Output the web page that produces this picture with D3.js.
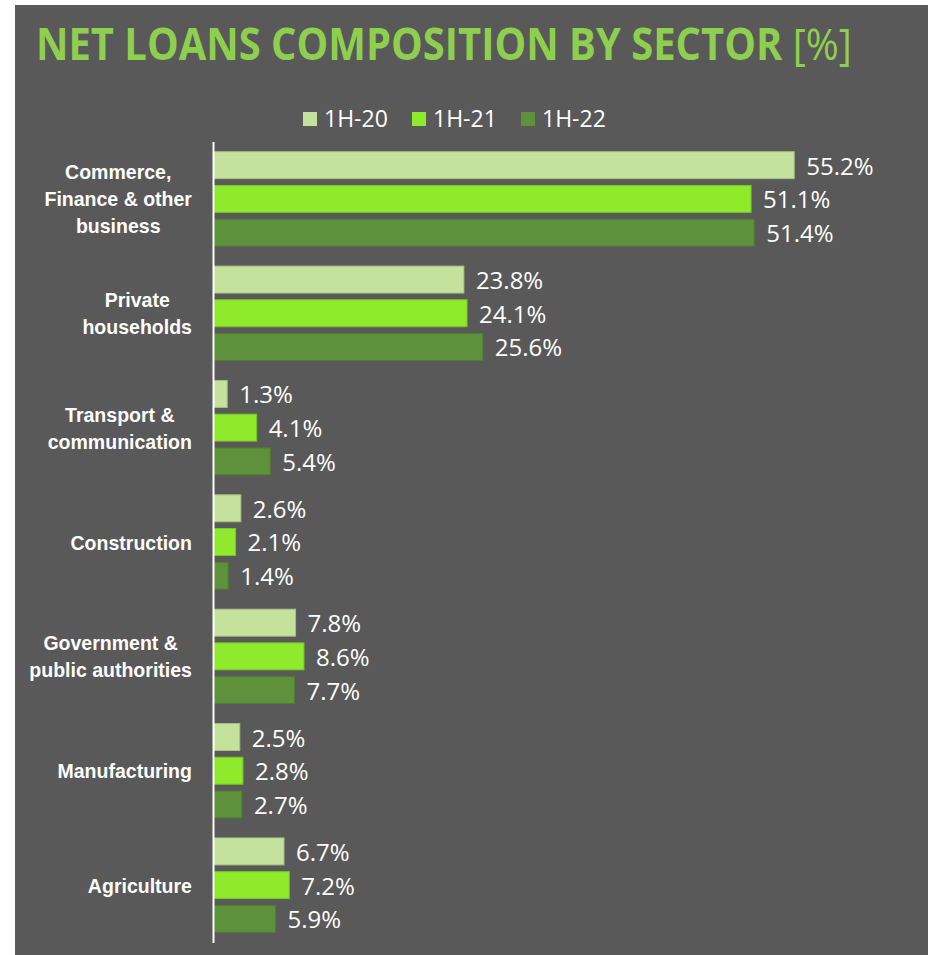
<!DOCTYPE html>
<html>
<head>
<meta charset="utf-8">
<script src="https://cdn.jsdelivr.net/npm/d3@7"></script>
<style>
  html, body { margin: 0; padding: 0; background: #ffffff; }
  svg { display: block; }
</style>
</head>
<body>
<svg id="chart" width="932" height="955"></svg>
<script>
// Sector categories (top to bottom); each label may span several lines
const categories = [
  "Commerce, Finance & other business",
  "Private households",
  "Transport & communication",
  "Construction",
  "Government & public authorities",
  "Manufacturing",
  "Agriculture"
];
const categoryLines = [
  ["Commerce,", "Finance & other", "business"],
  ["Private", "households"],
  ["Transport &", "communication"],
  ["Construction"],
  ["Government &", "public authorities"],
  ["Manufacturing"],
  ["Agriculture"]
];

// Share of net loans per sector, in percent
const seriesNames = ["1H-20", "1H-21", "1H-22"];
const values1H20 = [55.2, 23.8, 1.3, 2.6, 7.8, 2.5, 6.7];
const values1H21 = [51.1, 24.1, 4.1, 2.1, 8.6, 2.8, 7.2];
const values1H22 = [51.4, 25.6, 5.4, 1.4, 7.7, 2.7, 5.9];
const seriesColors = ["#c5e29c", "#8eea2a", "#5e913b"];

const titleMain = "NET LOANS COMPOSITION BY SECTOR";
const titleUnit = "[%]";

const series = [values1H20, values1H21, values1H22];
const rows = categories.map((c, i) => ({
  category: c,
  lines: categoryLines[i],
  values: seriesNames.map((s, j) => ({ series: s, value: series[j][i] }))
}));

const svg = d3.select("#chart");
const W = 932, H = 955;

// panel background
svg.append("rect")
  .attr("x", 15).attr("y", 5)
  .attr("width", 913).attr("height", H - 5)
  .attr("fill", "#595959");

// title
const title = svg.append("text")
  .attr("x", 36).attr("y", 60)
  .attr("fill", "#8fcf4f")
  .attr("font-family", "'Open Sans', sans-serif")
  .attr("font-size", 44);
title.append("tspan").attr("font-weight", 700).text(titleMain + " ");
title.append("tspan").attr("font-weight", 400).text(titleUnit);
const tW = title.node().getComputedTextLength();
const tScale = 816 / tW;
title.attr("transform", `translate(36,0) scale(${tScale},1) translate(-36,0)`);

// scales
const xAxisX = 213.5;
const x = d3.scaleLinear().domain([0, 60]).range([xAxisX, xAxisX + 631.2]);
const y = d3.scaleBand().domain(categories).range([142, 942])
  .paddingInner(0.175).paddingOuter(0.085);
const ySub = d3.scaleBand().domain(seriesNames).range([0, y.bandwidth()])
  .paddingInner(0.2).paddingOuter(0);
const color = d3.scaleOrdinal().domain(seriesNames).range(seriesColors);

// legend
const legend = svg.append("g");
const legendX = d3.scalePoint().domain(seriesNames).range([303, 521]);
seriesNames.forEach(s => {
  const g = legend.append("g").attr("transform", `translate(${legendX(s)},112)`);
  g.append("rect").attr("width", 14).attr("height", 14).attr("fill", color(s));
  g.append("text")
    .attr("x", 21).attr("y", 15)
    .attr("fill", "#ffffff")
    .attr("font-family", "'Open Sans', sans-serif")
    .attr("font-size", 23)
    .text(s);
});

// bars and value labels
const groups = svg.append("g").selectAll("g.cat")
  .data(rows).join("g")
  .attr("class", "cat")
  .attr("transform", d => `translate(0,${y(d.category)})`);

groups.selectAll("rect")
  .data(d => d.values).join("rect")
  .attr("x", x(0))
  .attr("y", d => ySub(d.series))
  .attr("width", d => x(d.value) - x(0))
  .attr("height", ySub.bandwidth())
  .attr("fill", d => color(d.series))
  .attr("stroke", d => d3.color(color(d.series)).darker(0.45))
  .attr("stroke-width", 1);

groups.selectAll("text.val")
  .data(d => d.values).join("text")
  .attr("class", "val")
  .attr("x", d => x(d.value) + 12)
  .attr("y", d => ySub(d.series) + ySub.bandwidth() / 2 + 9.5)
  .attr("fill", "#ffffff")
  .attr("font-family", "'Open Sans', sans-serif")
  .attr("font-size", 24)
  .text(d => d.value.toFixed(1) + "%");

// category labels: lines centred on each other, block right-aligned to the axis
const labelRight = 192;
const lineGap = 27;
const labelScale = 0.93;
rows.forEach(r => {
  const g = svg.append("g");
  const texts = r.lines.map((ln, i) => g.append("text")
    .attr("text-anchor", "middle")
    .attr("fill", "#ffffff")
    .attr("font-family", "'Liberation Sans', Arial, sans-serif")
    .attr("font-weight", 700)
    .attr("font-size", 21)
    .attr("y", (i - (r.lines.length - 1) / 2) * lineGap + 7.5)
    .text(ln));
  const maxW = d3.max(texts, t => t.node().getComputedTextLength()) * labelScale;
  const cx = labelRight - maxW / 2;
  const cy = y(r.category) + y.bandwidth() / 2;
  g.attr("transform", `translate(${cx},${cy}) scale(${labelScale},1)`);
});

// vertical axis line
svg.append("line")
  .attr("x1", xAxisX).attr("x2", xAxisX)
  .attr("y1", 142).attr("y2", 943)
  .attr("stroke", "#ffffff")
  .attr("stroke-width", 2);
</script>
</body>
</html>
